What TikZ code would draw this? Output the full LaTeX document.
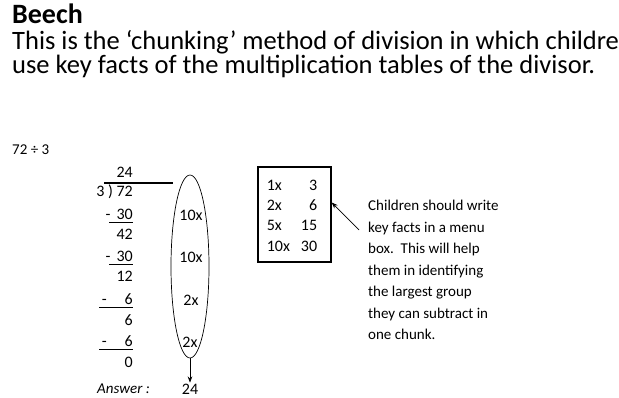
\documentclass[tikz,border=0pt]{standalone}
\usepackage{fontspec}
\setmainfont{Carlito}
\usetikzlibrary{positioning,arrows.meta,shapes.geometric,calc}

\begin{document}
\begin{tikzpicture}[
    x=1pt, y=-1pt,
    font=\fontsize{16}{19}\selectfont,
    heading/.style={anchor=base west, inner sep=0pt, text depth=0pt,
      font=\fontsize{28}{34}\selectfont\bfseries},
    intro/.style={anchor=base west, inner sep=0pt,
      font=\fontsize{26.5}{32}\selectfont},
    sumrow/.style={anchor=base east, inner sep=0pt},
    chunk/.style={inner sep=0pt},
    oval/.style={ellipse, draw, line width=0.7pt,
      minimum width=38pt, minimum height=183pt, inner sep=0pt},
    menubox/.style={rectangle, draw, line width=1.4pt,
      minimum width=73pt, minimum height=95pt, inner sep=0pt},
    note/.style={anchor=north west, align=left, inner sep=0pt,
      font=\fontsize{15}{21.5}\selectfont},
    rule/.style={line width=1.2pt},
    >=Stealth
  ]
    \useasboundingbox (0,0) rectangle (619,398);

    % heading
    \node[heading] (title) at (12,24) {Beech};
    \node[intro] (introa) at (12,50) {This is the ‘chunking’ method of division in which childre};
    \node[intro] (introb) at (12,74) {use key facts of the multiplication tables of the divisor.};

    % the sum
    \node[anchor=west, inner sep=0pt, font=\fontsize{15}{18}\selectfont]
      (task) at (12,150) {72 ÷ 3};
    \node[sumrow] (quot) at (133,178) {24};
    \node[sumrow] (dvd) at (133,197) {3 ) 72};
    \node[sumrow] (sa) at (133,220) {-\hspace{6pt}30};
    \node[sumrow] (ra) at (133,240) {42};
    \node[sumrow] (sb) at (133,262) {-\hspace{6pt}30};
    \node[sumrow] (rb) at (133,282) {12};
    \node[sumrow] (sc) at (133,305) {-\hspace{18pt}6};
    \node[sumrow] (rc) at (133,326) {6};
    \node[sumrow] (sd) at (133,347) {-\hspace{18pt}6};
    \node[sumrow] (rd) at (133,367) {0};
    \node[anchor=base west, inner sep=0pt, font=\fontsize{15}{18}\selectfont\itshape]
      (ans) at (97,393) {Answer :};

    \draw[line width=1.6pt] (104,183) -- (173,183);
    \foreach \lx/\ly in {109/222.5, 109/264.5, 99/307.5, 99/349.5}
      \draw[rule] (\lx,\ly) -- (133,\ly);

    % chunks taken away
    \node[oval] (chunks) at (190,266.5) {};
    \node[chunk] (ca) at (191,215) {10x};
    \node[chunk] (cb) at (191,257) {10x};
    \node[chunk] (cc) at (191,300) {2x};
    \node[chunk] (cd) at (190,342) {2x};
    \node[inner sep=1pt] (total) at (190,389) {24};
    \draw[->, line width=0.7pt] (chunks.south) -- (total.north);

    % menu box of key facts
    \node[menubox] (menu) at (294.5,214.5) {};
    \node[inner sep=0pt] (facts) at (292,216.5) {%
      \renewcommand{\arraystretch}{1.07}%
      \begin{tabular}{@{}l@{\hspace{11pt}}r@{}}
        1x & 3\\ 2x & 6\\ 5x & 15\\ 10x & 30
      \end{tabular}};

    \node[note] (tip) at (368,200) {Children should write\\key facts in a menu\\box.\ \ This will help\\them in identifying\\the largest group\\they can subtract in\\one chunk.};
    \coordinate (callout) at (359,230);
    \draw[->, line width=0.7pt] (callout) -- ([yshift=12pt]menu.east);
\end{tikzpicture}
\end{document}
